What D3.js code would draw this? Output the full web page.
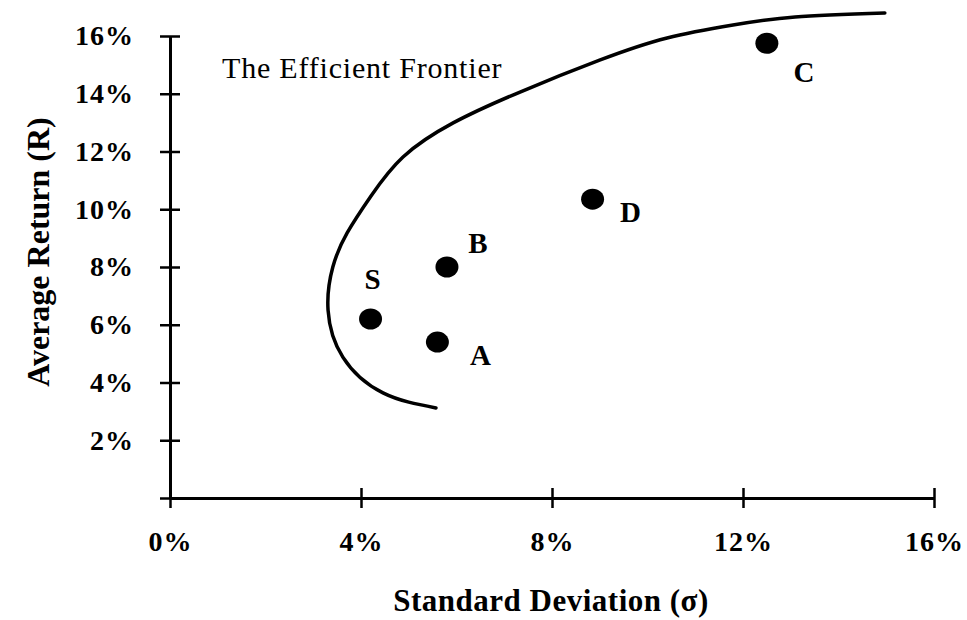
<!DOCTYPE html>
<html>
<head>
<meta charset="utf-8">
<script src="https://cdn.jsdelivr.net/npm/d3@7"></script>
<style>
  body { margin: 0; background: #fff; }
  svg { font-family: "Liberation Serif", "Times New Roman", serif; }
</style>
</head>
<body>
<svg id="chart"></svg>
<script>
// values (percent)
const xTicks = [0, 4, 8, 12, 16];
const yTicks = [0, 2, 4, 6, 8, 10, 12, 14, 16];

const pointNames = ["S", "A", "B", "C", "D"];
const pointSigma = [4.2, 5.6, 5.8, 12.5, 8.85];
const pointReturn = [6.2, 5.4, 8.0, 15.75, 10.35];

const frontierSigma = [5.57, 4.46, 3.62, 3.31, 3.41, 3.71, 4.21, 4.88, 5.93, 7.33, 9.01, 10.41, 11.79, 13.09, 14.97];
const frontierReturn = [3.12, 3.64, 4.88, 6.51, 8.0, 9.18, 10.46, 11.81, 12.99, 14.06, 15.17, 15.93, 16.38, 16.66, 16.8];

const width = 967, height = 620;

const svg = d3.select("#chart")
    .attr("width", width)
    .attr("height", height)
    .attr("viewBox", [0, 0, width, height]);

const x = d3.scaleLinear().domain([0, 16]).range([170, 934]);
const y = d3.scaleLinear().domain([0, 16]).range([498, 36]);

function styleTicks(g) {
    g.selectAll(".tick text")
        .attr("fill", "#000")
        .attr("font-family", "Liberation Serif, serif")
        .attr("font-weight", "bold")
        .attr("font-size", 28)
        .attr("letter-spacing", 1);
}

// x axis with crossing ticks
svg.append("g")
    .attr("transform", `translate(0,${y(0)})`)
    .call(d3.axisBottom(x).tickValues(xTicks).tickSizeOuter(0).tickPadding(27).tickFormat(d => `${d}%`))
    .call(g => {
        g.select(".domain").attr("stroke-width", 3);
        g.selectAll(".tick line").attr("y1", -10).attr("y2", 10).attr("stroke-width", 2.5);
        styleTicks(g);
    });

// y axis with crossing ticks
svg.append("g")
    .attr("transform", `translate(${x(0)},0)`)
    .call(d3.axisLeft(y).tickValues(yTicks).tickSizeOuter(0).tickPadding(30).tickFormat(d => d === 0 ? "" : `${d}%`))
    .call(g => {
        g.select(".domain").attr("stroke-width", 3);
        g.selectAll(".tick line").attr("x1", -10).attr("x2", 10).attr("stroke-width", 2.5);
        styleTicks(g);
    });

// efficient frontier
const frontier = frontierSigma.map((s, i) => [s, frontierReturn[i]]);
svg.append("path")
    .datum(frontier)
    .attr("fill", "none")
    .attr("stroke", "#000")
    .attr("stroke-width", 3.5)
    .attr("stroke-linecap", "round")
    .attr("d", d3.line().x(d => x(d[0])).y(d => y(d[1])).curve(d3.curveNatural));

svg.append("text")
    .attr("x", 222)
    .attr("y", 78)
    .attr("font-size", 30)
    .attr("letter-spacing", 0.8)
    .text("The Efficient Frontier");

// portfolios
const points = pointNames.map((n, i) => ({ name: n, s: pointSigma[i], r: pointReturn[i] }));
const labelOffset = { S: [2, -30], A: [43, 23], B: [31, -14], C: [37, 39], D: [38, 23] };

svg.selectAll(".dot")
  .data(points)
  .join("ellipse")
    .attr("class", "dot")
    .attr("cx", d => x(d.s))
    .attr("cy", d => y(d.r))
    .attr("rx", 11.5)
    .attr("ry", 10.5)
    .attr("fill", "#000");

svg.selectAll(".dot-label")
  .data(points)
  .join("text")
    .attr("class", "dot-label")
    .attr("x", d => x(d.s) + labelOffset[d.name][0])
    .attr("y", d => y(d.r) + labelOffset[d.name][1])
    .attr("text-anchor", "middle")
    .attr("font-weight", "bold")
    .attr("font-size", 29)
    .text(d => d.name);

// axis titles
svg.append("text")
    .attr("x", 551)
    .attr("y", 611)
    .attr("text-anchor", "middle")
    .attr("font-weight", "bold")
    .attr("font-size", 31)
    .attr("letter-spacing", 0.5)
    .text("Standard Deviation (σ)");

svg.append("text")
    .attr("transform", `translate(49,252) rotate(-90)`)
    .attr("text-anchor", "middle")
    .attr("font-weight", "bold")
    .attr("font-size", 32)
    .text("Average Return (R)");
</script>
</body>
</html>
